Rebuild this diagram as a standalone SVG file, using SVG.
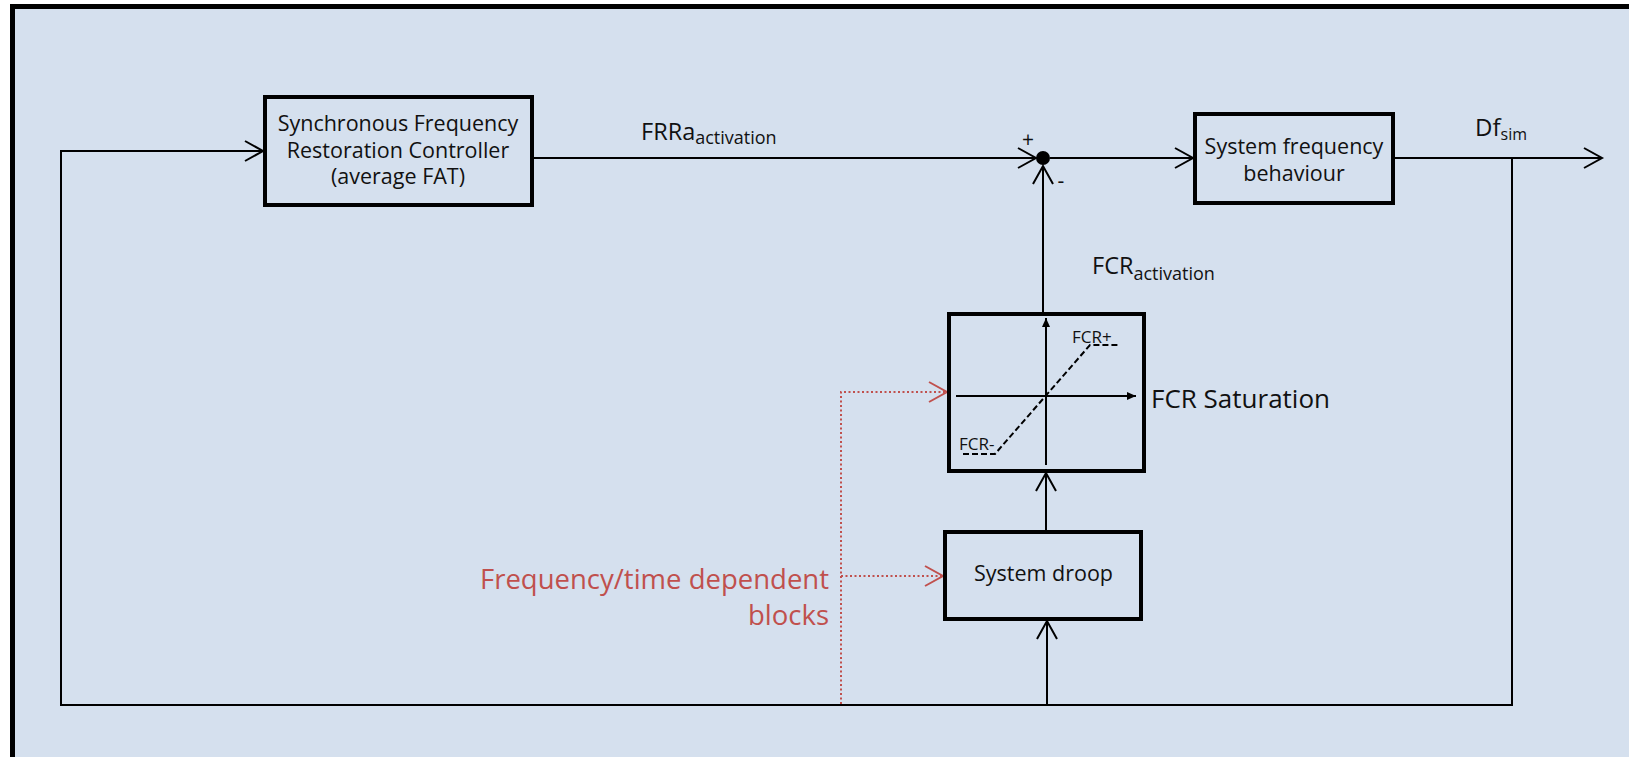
<svg xmlns="http://www.w3.org/2000/svg" width="1629" height="757" viewBox="0 0 1629 757">
<style>
.box{fill:none;stroke:#000;stroke-width:4}
.ln{fill:none;stroke:#000;stroke-width:2}
.red{fill:none;stroke:#c0504d;stroke-width:2;stroke-dasharray:2 2.5}
.t{font-family:"Open Sans","Liberation Sans",sans-serif;fill:#111}
.c{text-anchor:middle}
.b22{font-size:21.5px}
</style>
<defs>
<marker id="ao" markerUnits="userSpaceOnUse" markerWidth="24" markerHeight="24" refX="18" refY="10" orient="auto" overflow="visible">
<path d="M0,0 L18,10 L0,20" fill="none" stroke="#000" stroke-width="2"/>
</marker>
<marker id="ar" markerUnits="userSpaceOnUse" markerWidth="24" markerHeight="24" refX="18" refY="10" orient="auto" overflow="visible">
<path d="M0,0 L18,10 L0,20" fill="none" stroke="#c0504d" stroke-width="2"/>
</marker>
<marker id="af" markerUnits="userSpaceOnUse" markerWidth="12" markerHeight="12" refX="9" refY="4" orient="auto" overflow="visible">
<path d="M0,0 L9,4 L0,8 z" fill="#000"/>
</marker>
</defs>
<rect x="0" y="0" width="1629" height="757" fill="#fff"/>
<rect x="12.5" y="6.5" width="1660" height="800" fill="#d5e0ee" stroke="#000" stroke-width="5"/>

<g id="connectors">
<path class="ln" d="M1512,158 V705 H61 V151 H263" marker-end="url(#ao)"/>
<path class="ln" d="M534,158 H1036" marker-end="url(#ao)"/>
<path class="ln" d="M1050,158 H1193" marker-end="url(#ao)"/>
<path class="ln" d="M1395,158 H1602" marker-end="url(#ao)"/>
<path class="ln" d="M1043,312 V166" marker-end="url(#ao)"/>
<path class="ln" d="M1046,530 V473" marker-end="url(#ao)"/>
<path class="ln" d="M1047,705 V621" marker-end="url(#ao)"/>
<path class="red" d="M841,704 V392 H947" marker-end="url(#ar)"/>
<path class="red" d="M841,576 H943" marker-end="url(#ar)"/>
<text class="t" x="641" y="140" font-size="23.5">FRRa<tspan font-size="18" dy="4">activation</tspan></text>
<text class="t" x="1092" y="274" font-size="23.5">FCR<tspan font-size="18" dy="6">activation</tspan></text>
<text class="t" x="1475" y="136" font-size="24">Df<tspan font-size="16" dy="4">sim</tspan></text>
</g>

<g id="sfrc">
<rect class="box" x="265" y="97" width="267" height="108"/>
<text class="t c b22" x="398" y="131">Synchronous Frequency</text>
<text class="t c b22" x="398" y="157.5">Restoration Controller</text>
<text class="t c b22" x="398" y="184">(average FAT)</text>
</g>

<g id="sum">
<circle cx="1043" cy="158" r="7" fill="#000"/>
<text class="t c" x="1028" y="147" font-size="21">+</text>
<text class="t c" x="1061" y="188" font-size="21">-</text>
</g>

<g id="sfb">
<rect class="box" x="1195" y="114" width="198" height="89"/>
<text class="t c b22" x="1294" y="154">System frequency</text>
<text class="t c b22" x="1294" y="181">behaviour</text>
</g>

<g id="fcr-saturation">
<rect class="box" x="949" y="314" width="195" height="157"/>
<path class="ln" d="M1046,465 V318" marker-end="url(#af)"/>
<path class="ln" d="M956,396 H1136" marker-end="url(#af)"/>
<path class="ln" d="M963,454 H995 L1090,345 H1120" stroke-dasharray="6 3"/>
<text class="t" x="1072" y="343" font-size="17">FCR+</text>
<text class="t" x="959" y="450" font-size="17">FCR-</text>
<text class="t" x="1151" y="408" font-size="26">FCR Saturation</text>
</g>

<g id="system-droop">
<rect class="box" x="945" y="532" width="196" height="87"/>
<text class="t c b22" x="1043.5" y="581">System droop</text>
</g>

<g id="fdb-label">
<text class="t" x="829" y="589" font-size="27.5" text-anchor="end" style="fill:#c0504d">Frequency/time dependent</text>
<text class="t" x="829" y="625" font-size="27.5" text-anchor="end" style="fill:#c0504d">blocks</text>
</g>
</svg>
